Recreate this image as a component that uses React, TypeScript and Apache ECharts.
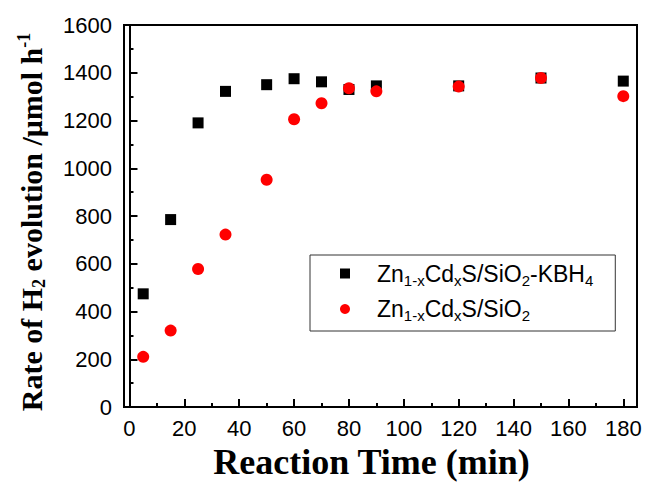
import React, { useEffect, useRef } from "react";
import * as echarts from "echarts";

const timeMin = [5, 15, 25, 35, 50, 60, 70, 80, 90, 120, 150, 180];
const kbh4Rate = [474, 785, 1190, 1322, 1350, 1375, 1362, 1330, 1345, 1345, 1378, 1365];
const sio2Rate = [210, 320, 578, 722, 952, 1205, 1272, 1335, 1322, 1342, 1378, 1302];
const xMajorTicks = [0, 20, 40, 60, 80, 100, 120, 140, 160, 180];
const xMinorTicks = [10, 30, 50, 70, 90, 110, 130, 150, 170];
const seriesNames = ["Zn1-xCdxS/SiO2-KBH4", "Zn1-xCdxS/SiO2"];

export default function App() {
  const ref = useRef<HTMLDivElement>(null);
  useEffect(() => {
    if (!ref.current) return;
    const chart = echarts.init(ref.current, null, { renderer: "svg" });
    const labelFont = { fontFamily: "Liberation Sans, Arial, sans-serif", fontSize: 22, color: "#000" };
    const titleFont = { fontFamily: "Liberation Serif, Times New Roman, serif", fontWeight: "bold" as const, color: "#000" };
    chart.setOption({
      animation: false,
      grid: {
        left: 124, right: 10, top: 25, bottom: 80,
        show: true, borderColor: "#000", borderWidth: 2,
        outerBoundsMode: "none", containLabel: false,
      },
      xAxis: [
        {
          type: "value",
          min: -2,
          max: 185,
          name: "Reaction Time (min)",
          nameLocation: "middle",
          nameGap: 29,
          nameTextStyle: { ...titleFont, fontSize: 36, padding: [0, 18, 0, 0] },
          axisLine: { show: true, lineStyle: { color: "#000", width: 2 } },
          axisTick: { show: true, inside: true, length: 8, lineStyle: { color: "#000", width: 2 }, customValues: xMajorTicks },
          axisLabel: { ...labelFont, margin: 10, customValues: xMajorTicks },
          splitLine: { show: false },
        },
        {
          type: "value",
          min: -2,
          max: 185,
          position: "bottom",
          axisLine: { show: false },
          axisTick: { show: true, inside: true, length: 4, lineStyle: { color: "#000", width: 2 }, customValues: xMinorTicks },
          axisLabel: { show: false },
          splitLine: { show: false },
        },
      ],
      yAxis: {
        type: "value",
        min: 0,
        max: 1600,
        interval: 200,
        name: "{t|Rate of H}{s|2}{t| evolution /μmol h}{p|-1}",
        nameLocation: "middle",
        nameGap: 76,
        nameTextStyle: {
          ...titleFont,
          fontSize: 30,
          padding: [0, 12, 0, 0],
          rich: {
            t: { ...titleFont, fontSize: 30 },
            s: { ...titleFont, fontSize: 18, padding: [15, 0, 0, 0] },
            p: { ...titleFont, fontSize: 18, padding: [0, 0, 15, 0] },
          },
        },
        axisLine: { show: true, lineStyle: { color: "#000", width: 2 } },
        axisTick: { show: true, inside: true, length: 8, lineStyle: { color: "#000", width: 2 } },
        minorTick: { show: true, splitNumber: 2, length: 4, lineStyle: { color: "#000", width: 2 } },
        axisLabel: { ...labelFont, margin: 12, formatter: (v: number) => String(v) },
        splitLine: { show: false },
      },
      legend: {
        orient: "vertical",
        left: 310,
        top: 255,
        padding: [7, 22, 8, 30],
        itemGap: 10,
        itemWidth: 10,
        itemHeight: 10,
        borderColor: "#333",
        borderWidth: 1,
        data: [
          { name: seriesNames[0], icon: "rect" },
          { name: seriesNames[1], icon: "circle" },
        ],
        formatter: (name: string) =>
          name === seriesNames[0]
            ? "{n|Zn}{s|1-x}{n|Cd}{s|x}{n|S/SiO}{s|2}{n|-KBH}{s|4}"
            : "{n|Zn}{s|1-x}{n|Cd}{s|x}{n|S/SiO}{s|2}",
        textStyle: {
          padding: [0, 0, 0, 22],
          rich: {
            n: { ...labelFont, fontSize: 23 },
            s: { ...labelFont, fontSize: 15, padding: [13, 0, 0, 0] },
          },
        },
      },
      series: [
        {
          name: seriesNames[0],
          type: "scatter",
          symbol: "rect",
          symbolSize: 11,
          itemStyle: { color: "#000", opacity: 1 },
          data: timeMin.map((t, i) => [t, kbh4Rate[i]]),
        },
        {
          name: seriesNames[1],
          type: "scatter",
          symbol: "circle",
          symbolSize: 12,
          itemStyle: { color: "#ff0000", opacity: 1 },
          data: timeMin.map((t, i) => [t, sio2Rate[i]]),
        },
      ],
    });
    return () => chart.dispose();
  }, []);
  return <div ref={ref} style={{ position: "absolute", left: 0, top: 0, width: 647, height: 487 }} />;
}
